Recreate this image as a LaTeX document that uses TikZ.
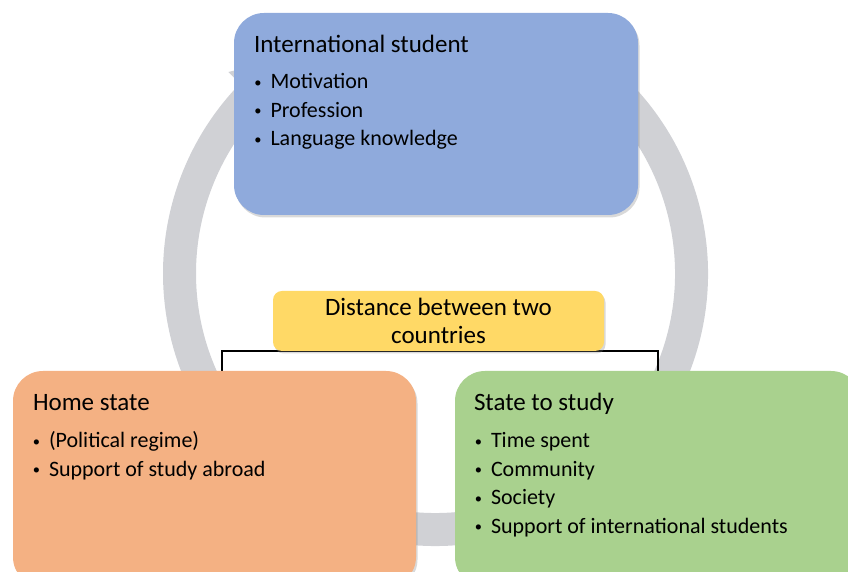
\documentclass[tikz,border=0pt]{standalone}
\usepackage{fontspec}
\setmainfont{Carlito}
\usepackage{tikz}
\usetikzlibrary{positioning,calc,shadows,backgrounds}
\definecolor{blu}{HTML}{8FAADC}
\definecolor{org}{HTML}{F4B183}
\definecolor{grn}{HTML}{A9D18E}
\definecolor{yel}{HTML}{FFD966}
\definecolor{rng}{HTML}{D0D1D5}
\newcommand{\bul}{\makebox[16pt][l]{\makebox[7pt][c]{\raisebox{1.5pt}{\fontsize{14.5}{14}\selectfont\textbullet}}}}
\tikzset{
  box/.style={draw=none,rounded corners=30pt,inner sep=0pt,drop shadow={shadow xshift=1.5pt,shadow yshift=-2.5pt,opacity=0.3}},
  bbox/.style={box,fill=blu,minimum width=404pt,minimum height=202pt},
  obox/.style={box,fill=org,minimum width=403pt,minimum height=216pt},
  gbox/.style={box,fill=grn,minimum width=406pt,minimum height=216pt},
  ybox/.style={box,fill=yel,rounded corners=9pt,minimum width=331pt,minimum height=60pt,align=center,font=\fontsize{25}{28}\selectfont},
  ttl/.style={anchor=base west,inner sep=0pt,font=\fontsize{25}{30}\selectfont},
  itm/.style={anchor=base west,inner sep=0pt,font=\fontsize{22}{26}\selectfont},
  brk/.style={draw=black,line width=2pt},
  ring/.style={draw=rng,line width=33pt},
}
\begin{document}
\begin{tikzpicture}[x=1pt,y=1pt]
\useasboundingbox (0,0) rectangle (848,572);
% the three actors and the distance between them
\node[bbox] (is) at (436,458) {};
\node[obox] (hs) at (214.5,93) {};
\node[gbox] (ss) at (658,93) {};
\node[ybox] (dis) at (438.5,251) {Distance between two\\countries};
% texts
\node[ttl] (isT) at ($(is.north west)+(20,-40)$) {International student};
\foreach \txt [count=\i] in {Motivation,Profession,Language knowledge}
  \node[itm] (isI\i) at ($(is.north west)+(20.5,-47.5-28.5*\i)$) {\bul\txt};
\node[ttl] (hsT) at ($(hs.north west)+(20,-40)$) {Home state};
\foreach \txt [count=\i] in {(Political regime),Support of study abroad}
  \node[itm] (hsI\i) at ($(hs.north west)+(20,-48.5-28.5*\i)$) {\bul\txt};
\node[ttl] (ssT) at ($(ss.north west)+(19,-40)$) {State to study};
\foreach \txt [count=\i] in {Time spent,Community,Society,Support of international students}
  \node[itm] (ssI\i) at ($(ss.north west)+(20,-48.5-28.5*\i)$) {\bul\txt};
% ring and bracket behind
\begin{scope}[on background layer]
\coordinate (c) at (435.5,298.5);
\draw[ring] ($(c)+(60:256)$) arc[start angle=60,end angle=-224.2,radius=256];
\fill[rng] ($(c)+(135.8:222)$) -- ($(c)+(135.8:289)$) -- ($(c)+(120:256)$) -- cycle;
\draw[brk] ([xshift=7.5pt]hs.north) |- (dis.south) -| (ss.north);
\end{scope}
\end{tikzpicture}
\end{document}
